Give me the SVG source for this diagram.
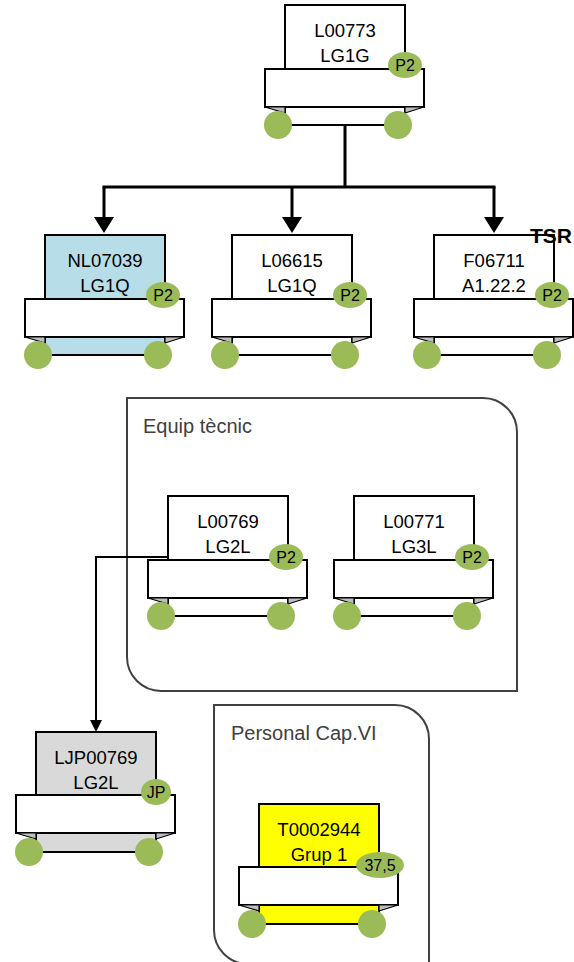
<svg xmlns="http://www.w3.org/2000/svg" width="574" height="962" viewBox="0 0 574 962">
<style>
  .body{stroke:#000;stroke-width:2}
  .banner{fill:#fff;stroke:#000;stroke-width:2}
  .tab{fill:#bfbfbf;stroke:#000;stroke-width:1.2;stroke-linejoin:round}
  .dot{fill:#9bbb59}
  .lbl{font-family:"Liberation Sans",Arial,sans-serif;font-size:18.5px;fill:#000;text-anchor:middle}
  .bdg{font-family:"Liberation Sans",Arial,sans-serif;font-size:16px;fill:#000;text-anchor:middle}
  .grp{fill:none;stroke:#404040;stroke-width:2}
  .gl{font-family:"Liberation Sans",Arial,sans-serif;font-size:20px;fill:#404040}
  .con{fill:none;stroke:#000}
</style>
<defs>
  <marker id="arrL" markerUnits="userSpaceOnUse" viewBox="0 0 16 20" markerWidth="16" markerHeight="20" refX="12" refY="10" orient="auto">
    <path d="M0,0 L16,10 L0,20 Z" fill="#000"/>
  </marker>
  <marker id="arrS" markerUnits="userSpaceOnUse" viewBox="0 0 12 12" markerWidth="12" markerHeight="12" refX="9" refY="6" orient="auto">
    <path d="M0,0 L12,6 L0,12 Z" fill="#000"/>
  </marker>
</defs>
<g id="group-equip">
  <path class="grp" d="M127,398 H483 A34,34 0 0 1 517,432 V691 H161 A34,34 0 0 1 127,657 Z"/>
  <text class="gl" x="143" y="433">Equip tècnic</text>
</g>
<g id="group-personal">
  <path class="grp" d="M214,705 H395 A34,34 0 0 1 429,739 V964 H248 A34,34 0 0 1 214,930 Z"/>
  <text class="gl" x="231" y="740">Personal Cap.VI</text>
</g>
<g id="connectors">
  <path class="con" stroke-width="3" d="M345,125 V187 M102.5,187 H495.5"/>
  <path class="con" stroke-width="3" d="M104,187 V229" marker-end="url(#arrL)"/>
  <path class="con" stroke-width="3" d="M292,187 V229" marker-end="url(#arrL)"/>
  <path class="con" stroke-width="3" d="M494,187 V229" marker-end="url(#arrL)"/>
  <path class="con" stroke-width="2" d="M168,557 H96 V729" marker-end="url(#arrS)"/>
</g>
<g id="node-L00773" transform="translate(285,5)">
  <rect class="body" x="0" y="0" width="120" height="120" fill="#fff"/>
  <rect class="banner" x="-20" y="64" width="159" height="38"/>
  <polygon class="tab" points="-20,102 0,102 0,108"/>
  <polygon class="tab" points="120,102 139,102 120,108"/>
  <circle class="dot" cx="-7" cy="120" r="14"/>
  <circle class="dot" cx="113" cy="120" r="14"/>
  <ellipse class="dot" cx="120" cy="60" rx="17" ry="13"/>
  <text class="bdg" x="120" y="65.5">P2</text>
  <text class="lbl" x="60" y="32">L00773</text>
  <text class="lbl" x="60" y="57">LG1G</text>
</g>
<g id="node-NL07039" transform="translate(45,235)">
  <rect class="body" x="0" y="0" width="120" height="120" fill="#b7dde8"/>
  <rect class="banner" x="-20" y="64" width="159" height="38"/>
  <polygon class="tab" points="-20,102 0,102 0,108"/>
  <polygon class="tab" points="120,102 139,102 120,108"/>
  <circle class="dot" cx="-7" cy="120" r="14"/>
  <circle class="dot" cx="113" cy="120" r="14"/>
  <ellipse class="dot" cx="118" cy="60" rx="17" ry="13"/>
  <text class="bdg" x="118" y="65.5">P2</text>
  <text class="lbl" x="60" y="32">NL07039</text>
  <text class="lbl" x="60" y="57">LG1Q</text>
</g>
<g id="node-L06615" transform="translate(232,235)">
  <rect class="body" x="0" y="0" width="120" height="120" fill="#fff"/>
  <rect class="banner" x="-20" y="64" width="159" height="38"/>
  <polygon class="tab" points="-20,102 0,102 0,108"/>
  <polygon class="tab" points="120,102 139,102 120,108"/>
  <circle class="dot" cx="-7" cy="120" r="14"/>
  <circle class="dot" cx="113" cy="120" r="14"/>
  <ellipse class="dot" cx="118" cy="60" rx="17" ry="13"/>
  <text class="bdg" x="118" y="65.5">P2</text>
  <text class="lbl" x="60" y="32">L06615</text>
  <text class="lbl" x="60" y="57">LG1Q</text>
</g>
<g id="node-F06711" transform="translate(434,235)">
  <rect class="body" x="0" y="0" width="120" height="120" fill="#fff"/>
  <rect class="banner" x="-20" y="64" width="159" height="38"/>
  <polygon class="tab" points="-20,102 0,102 0,108"/>
  <polygon class="tab" points="120,102 139,102 120,108"/>
  <circle class="dot" cx="-7" cy="120" r="14"/>
  <circle class="dot" cx="113" cy="120" r="14"/>
  <ellipse class="dot" cx="118" cy="60" rx="17" ry="13"/>
  <text class="bdg" x="118" y="65.5">P2</text>
  <text class="lbl" x="60" y="32">F06711</text>
  <text class="lbl" x="60" y="57">A1.22.2</text>
  <text x="96" y="8" font-family="Liberation Sans, Arial, sans-serif" font-size="21" font-weight="bold" fill="#000">TSR</text>
</g>
<g id="node-L00769" transform="translate(168,496)">
  <rect class="body" x="0" y="0" width="120" height="120" fill="#fff"/>
  <rect class="banner" x="-20" y="64" width="159" height="38"/>
  <polygon class="tab" points="-20,102 0,102 0,108"/>
  <polygon class="tab" points="120,102 139,102 120,108"/>
  <circle class="dot" cx="-7" cy="120" r="14"/>
  <circle class="dot" cx="113" cy="120" r="14"/>
  <ellipse class="dot" cx="118" cy="61" rx="17" ry="13"/>
  <text class="bdg" x="118" y="66.5">P2</text>
  <text class="lbl" x="60" y="32">L00769</text>
  <text class="lbl" x="60" y="57">LG2L</text>
</g>
<g id="node-L00771" transform="translate(354,496)">
  <rect class="body" x="0" y="0" width="120" height="120" fill="#fff"/>
  <rect class="banner" x="-20" y="64" width="159" height="38"/>
  <polygon class="tab" points="-20,102 0,102 0,108"/>
  <polygon class="tab" points="120,102 139,102 120,108"/>
  <circle class="dot" cx="-7" cy="120" r="14"/>
  <circle class="dot" cx="113" cy="120" r="14"/>
  <ellipse class="dot" cx="118" cy="61" rx="17" ry="13"/>
  <text class="bdg" x="118" y="66.5">P2</text>
  <text class="lbl" x="60" y="32">L00771</text>
  <text class="lbl" x="60" y="57">LG3L</text>
</g>
<g id="node-LJP00769" transform="translate(36,732)">
  <rect class="body" x="0" y="0" width="120" height="120" fill="#d9d9d9"/>
  <rect class="banner" x="-20" y="63" width="159" height="38"/>
  <polygon class="tab" points="-20,101 0,101 0,107"/>
  <polygon class="tab" points="120,101 139,101 120,107"/>
  <circle class="dot" cx="-7" cy="120" r="14"/>
  <circle class="dot" cx="113" cy="120" r="14"/>
  <ellipse class="dot" cx="120" cy="60" rx="15" ry="13"/>
  <text class="bdg" x="120" y="65.5">JP</text>
  <text class="lbl" x="60" y="32">LJP00769</text>
  <text class="lbl" x="60" y="57">LG2L</text>
</g>
<g id="node-T0002944" transform="translate(259,804)">
  <rect class="body" x="0" y="0" width="120" height="120" fill="#ffff00"/>
  <rect class="banner" x="-20" y="63" width="159" height="38"/>
  <polygon class="tab" points="-20,101 0,101 0,107"/>
  <polygon class="tab" points="120,101 139,101 120,107"/>
  <circle class="dot" cx="-7" cy="120" r="14"/>
  <circle class="dot" cx="113" cy="120" r="14"/>
  <ellipse class="dot" cx="121" cy="61" rx="24" ry="13"/>
  <text class="bdg" x="121" y="66.5">37,5</text>
  <text class="lbl" x="60" y="32">T0002944</text>
  <text class="lbl" x="60" y="57">Grup 1</text>
</g>
</svg>
